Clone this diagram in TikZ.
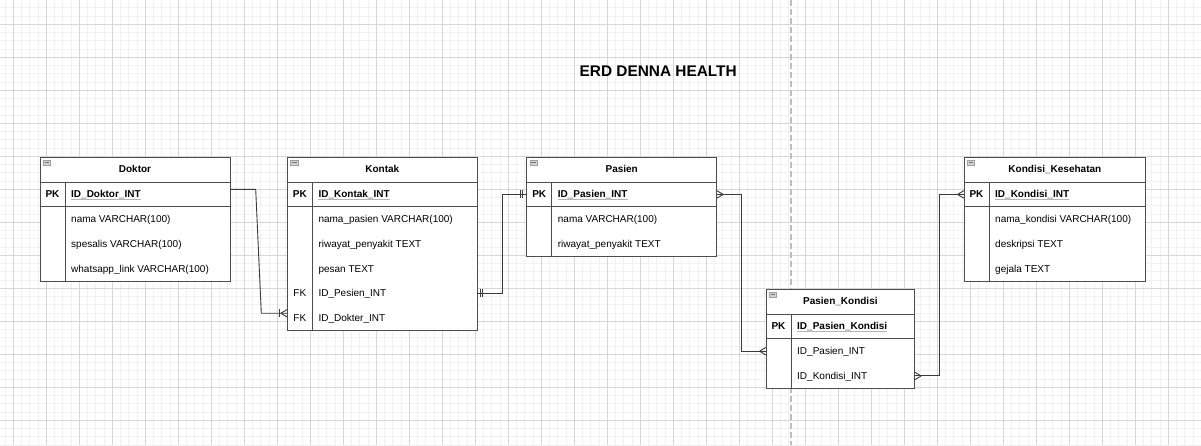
\documentclass[tikz,border=0pt]{standalone}
\usepackage{fontspec}
\setmainfont{Liberation Sans}
\usetikzlibrary{calc}
\definecolor{linec}{HTML}{4D4D4D}
\definecolor{connc}{HTML}{3A3A3A}
\definecolor{gridmaj}{HTML}{D6D6D6}
\definecolor{gridmin}{HTML}{F1F1F1}
\definecolor{dashc}{HTML}{BDBDBD}
\definecolor{ulc}{HTML}{B4B4B4}
\newcommand\erdrh{24.75}
\tikzset{
  ent/.style={draw=linec, line width=0.9pt, fill=white, inner sep=0pt, outer sep=0pt, anchor=north west},
  sep/.style={draw=linec, line width=0.9pt},
  ttl/.style={font=\bfseries\fontsize{10}{12}\selectfont, anchor=base, inner sep=0pt},
  fldt/.style={font=\fontsize{10}{12}\selectfont, anchor=base west, inner sep=0pt},
  keyt/.style={font=\fontsize{10}{12}\selectfont, anchor=base, inner sep=0pt},
  ul/.style={draw=ulc, line width=1.1pt},
  icon/.style={draw=gray!75, fill=gray!35, line width=0.6pt},
  iconbar/.style={draw=gray!90!black, line width=0.9pt},
  conn/.style={draw=connc, line width=0.9pt},
  gmaj/.style={draw=gridmaj, line width=0.9pt},
  gmin/.style={draw=gridmin, line width=0.8pt},
}
% entity: name, x, y, width, number of body rows, title
\newcommand\erdent[6]{%
  \pgfmathsetmacro\erdhh{\erdrh*(2+#5)}%
  \node[ent, minimum width=#4pt, minimum height=\erdhh pt] (#1) at (#2,#3) {};
  \draw[sep] ($(#1.north west)+(0,\erdrh)$) -- ($(#1.north east)+(0,\erdrh)$);
  \draw[sep] ($(#1.north west)+(0,{2*\erdrh})$) -- ($(#1.north east)+(0,{2*\erdrh})$);
  \draw[sep] ($(#1.north west)+(25,\erdrh)$) -- ($(#1.south west)+(25,0)$);
  \node[ttl] (#1-t) at ($(#1.north)+(0,{\erdrh/2+3.2})$) {#6};
  \draw[icon] ($(#1.north west)+(3.3,2.7)$) rectangle ($(#1.north west)+(10.7,8.4)$);
  \draw[iconbar] ($(#1.north west)+(4.6,5.55)$) -- ($(#1.north west)+(9.4,5.55)$);
}
% primary key row
\newcommand\erdpk[2]{%
  \node[keyt] (#1-k0) at ($(#1.north west)+(12.5,{\erdrh*1.5+3.5})$) {\bfseries PK};
  \node[fldt] (#1-f0) at ($(#1.north west)+(31,{\erdrh*1.5+3.5})$) {\bfseries #2};
  \draw[ul] ($(#1-f0.base west)+(0,1.8)$) -- ($(#1-f0.base east)+(0,1.8)$);
}
% body field: entity, row index, text
\newcommand\erdfld[3]{%
  \node[fldt] (#1-f#2) at ($(#1.north west)+(31,{\erdrh*(#2+1.5)+3.5})$) {#3};
}
% key label in a body row
\newcommand\erdkey[3]{%
  \node[keyt] (#1-k#2) at ($(#1.north west)+(12.5,{\erdrh*(#2+1.5)+3.5})$) {#3};
}
% crow's foot, apex left of the point (entity on the right)
\newcommand\crowL[1]{%
  \draw[conn] ($(#1)+(-6.5,0)$) -- ($(#1)+(0,-3.8)$) ($(#1)+(-6.5,0)$) -- ($(#1)+(0,3.8)$);
}
% crow's foot, apex right of the point (entity on the left)
\newcommand\crowR[1]{%
  \draw[conn] ($(#1)+(6.5,0)$) -- ($(#1)+(0,-3.8)$) ($(#1)+(6.5,0)$) -- ($(#1)+(0,3.8)$);
}
% bar across the connector at x offset
\newcommand\erdbar[2]{%
  \draw[conn] ($(#1)+(#2,-4)$) -- ($(#1)+(#2,4)$);
}
\begin{document}
\begin{tikzpicture}[x=1pt, y=-1pt]
\useasboundingbox (0,0) rectangle (1201,445);
\fill[white] (0,0) rectangle (1201,445);
% grid
\foreach \i in {0,...,145} \draw[gmin] ({5.05+8.25*\i},0) -- ({5.05+8.25*\i},445);
\foreach \j in {0,...,54} \draw[gmin] (0,{7.8+8.25*\j}) -- (1201,{7.8+8.25*\j});
\foreach \i in {0,...,36} \draw[gmaj] ({13.3+33*\i},0) -- ({13.3+33*\i},445);
\foreach \j in {0,...,13} \draw[gmaj] (0,{24.3+33*\j}) -- (1201,{24.3+33*\j});
% dashed divider
\coordinate (dtop) at (791,0);
\coordinate (dbot) at (791,445);
\draw[dashc, line width=1.2pt, dash pattern=on 6pt off 3pt] (dtop) -- (dbot);
% title
\node[font=\bfseries\fontsize{15.4}{18}\selectfont, anchor=base, inner sep=0pt] (title) at (658.2,76) {ERD DENNA HEALTH};

% Doktor
\erdent{doktor}{40}{157.3}{190}{3}{Doktor}
\erdpk{doktor}{ID\_Doktor\_INT}
\erdfld{doktor}{1}{nama VARCHAR(100)}
\erdfld{doktor}{2}{spesalis VARCHAR(100)}
\erdfld{doktor}{3}{whatsapp\_link VARCHAR(100)}

% Kontak
\erdent{kontak}{287.3}{157.3}{190}{5}{Kontak}
\erdpk{kontak}{ID\_Kontak\_INT}
\erdfld{kontak}{1}{nama\_pasien VARCHAR(100)}
\erdfld{kontak}{2}{riwayat\_penyakit TEXT}
\erdfld{kontak}{3}{pesan TEXT}
\erdkey{kontak}{4}{FK}
\erdfld{kontak}{4}{ID\_Pesien\_INT}
\erdkey{kontak}{5}{FK}
\erdfld{kontak}{5}{ID\_Dokter\_INT}

% Pasien
\erdent{pasien}{526.7}{157.3}{190}{2}{Pasien}
\erdpk{pasien}{ID\_Pasien\_INT}
\erdfld{pasien}{1}{nama VARCHAR(100)}
\erdfld{pasien}{2}{riwayat\_penyakit TEXT}

% Pasien_Kondisi
\erdent{pk}{766}{289.3}{148.7}{2}{Pasien\_Kondisi}
\erdpk{pk}{ID\_Pasien\_Kondisi}
\erdfld{pk}{1}{ID\_Pasien\_INT}
\erdfld{pk}{2}{ID\_Kondisi\_INT}

% Kondisi_Kesehatan
\erdent{kk}{964}{157.3}{181.7}{3}{Kondisi\_Kesehatan}
\erdpk{kk}{ID\_Kondisi\_INT}
\erdfld{kk}{1}{nama\_kondisi VARCHAR(100)}
\erdfld{kk}{2}{deskripsi TEXT}
\erdfld{kk}{3}{gejala TEXT}

% connector anchor points
\coordinate (c1a) at ($(doktor.north east)+(0,32)$);
\coordinate (c1b) at ($(kontak.south west)+(0,-17.3)$);
\coordinate (c2a) at ($(kontak.north east)+(0,{\erdrh*5.5})$);
\coordinate (c2b) at ($(pasien.north west)+(0,{\erdrh*1.5})$);
\coordinate (c3a) at ($(pasien.north east)+(0,{\erdrh*1.5})$);
\coordinate (c3b) at ($(pk.north west)+(0,{\erdrh*2.5})$);
\coordinate (c4a) at ($(pk.north east)+(0,{\erdrh*3.5})$);
\coordinate (c4b) at ($(kk.north west)+(0,{\erdrh*1.5})$);

% Doktor -> Kontak
\draw[conn] (c1a) -- ++(25.7,0) -- ($(c1b)+(-26,0)$) -- (c1b);
\erdbar{c1b}{-7.8}
\crowL{c1b}
% Kontak -> Pasien
\draw[conn] (c2a) -- ++(25,0) |- (c2b);
\erdbar{c2a}{3}
\erdbar{c2a}{5.5}
\erdbar{c2b}{-6.5}
\erdbar{c2b}{-4}
% Pasien -> Pasien_Kondisi
\draw[conn] (c3a) -- ++(24.3,0) |- (c3b);
\crowR{c3a}
\crowL{c3b}
% Pasien_Kondisi -> Kondisi_Kesehatan
\draw[conn] (c4a) -- ++(24.6,0) |- (c4b);
\crowR{c4a}
\crowL{c4b}
\end{tikzpicture}
\end{document}
